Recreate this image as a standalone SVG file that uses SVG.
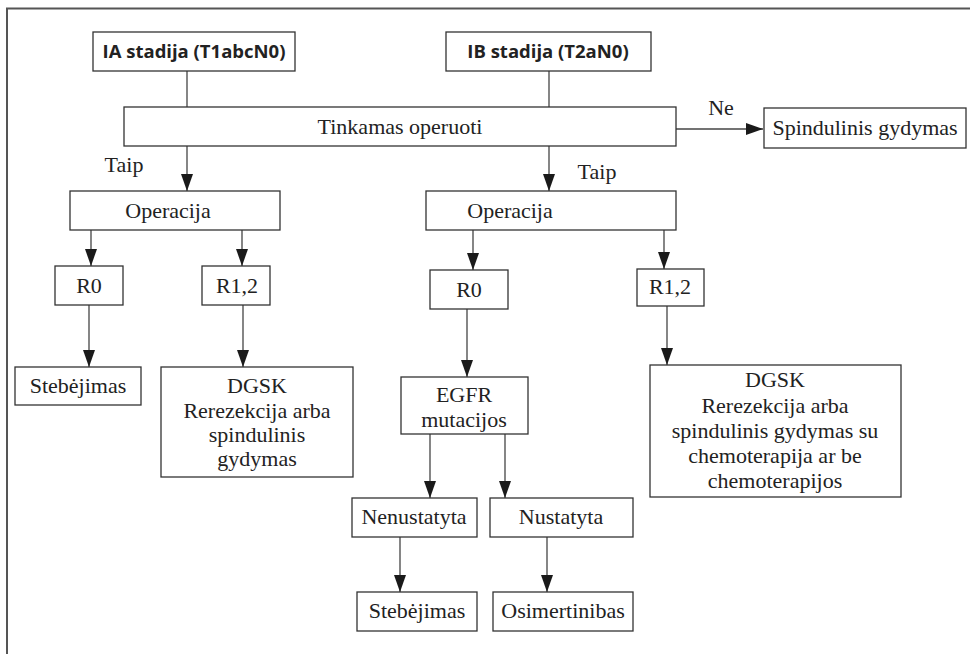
<svg xmlns="http://www.w3.org/2000/svg" width="970" height="654" viewBox="0 0 970 654" font-family="Liberation Serif, serif">
<defs>
<style>
.box{fill:#fff;stroke:#333;stroke-width:1.3}
.lbl{font-family:'Liberation Serif','Times New Roman',serif !important;font-size:22px;fill:#222;text-anchor:middle}
.hdr{font-family:'Open Sans','Liberation Sans',sans-serif !important;font-size:18.5px;font-weight:700;fill:#222;text-anchor:middle}
.ln{fill:none;stroke:#444;stroke-width:1.3}
.frame{fill:none;stroke:#555;stroke-width:2}
</style>
<marker id="ah" markerUnits="userSpaceOnUse" markerWidth="17" markerHeight="12" refX="17" refY="6" orient="auto" viewBox="0 0 17 12">
<path d="M0,0 L17,6 L0,12 z" fill="#1a1a1a"/>
</marker>
</defs>
<rect width="970" height="654" fill="#fff"/>
<path class="frame" d="M7,654 V8.5 H970"/>

<g id="connectors">
<path class="ln" d="M187,71 V107"/>
<path class="ln" d="M549,71 V107"/>
<path class="ln" d="M676,129 H763" marker-end="url(#ah)"/>
<path class="ln" d="M187,146 V191" marker-end="url(#ah)"/>
<path class="ln" d="M549,146 V191" marker-end="url(#ah)"/>
<path class="ln" d="M91,230 V266" marker-end="url(#ah)"/>
<path class="ln" d="M242,230 V266" marker-end="url(#ah)"/>
<path class="ln" d="M473,230 V270" marker-end="url(#ah)"/>
<path class="ln" d="M664,230 V269" marker-end="url(#ah)"/>
<path class="ln" d="M89,305 V367" marker-end="url(#ah)"/>
<path class="ln" d="M243,305 V367" marker-end="url(#ah)"/>
<path class="ln" d="M467,309 V377" marker-end="url(#ah)"/>
<path class="ln" d="M667,306 V365" marker-end="url(#ah)"/>
<path class="ln" d="M430,434 V498" marker-end="url(#ah)"/>
<path class="ln" d="M505,434 V498" marker-end="url(#ah)"/>
<path class="ln" d="M400,537 V592" marker-end="url(#ah)"/>
<path class="ln" d="M547,537 V592" marker-end="url(#ah)"/>
<text class="lbl" x="721" y="115">Ne</text>
<text class="lbl" x="124" y="172">Taip</text>
<text class="lbl" x="597" y="179">Taip</text>
</g>

<g id="ia"><rect class="box" x="93" y="32" width="202" height="39"/><text class="hdr" x="194" y="58">IA stadija (T1abcN0)</text></g>
<g id="ib"><rect class="box" x="446" y="32" width="205" height="39"/><text class="hdr" x="548" y="58">IB stadija (T2aN0)</text></g>
<g id="tinkamas"><rect class="box" x="124" y="107" width="552" height="39"/><text class="lbl" x="400" y="134">Tinkamas operuoti</text></g>
<g id="spindulinis"><rect class="box" x="764" y="108" width="202" height="40"/><text class="lbl" x="865" y="135">Spindulinis gydymas</text></g>
<g id="operacija1"><rect class="box" x="70" y="191" width="210" height="39"/><text class="lbl" x="168" y="218">Operacija</text></g>
<g id="operacija2"><rect class="box" x="426" y="191" width="250" height="39"/><text class="lbl" x="510" y="218">Operacija</text></g>
<g id="r0a"><rect class="box" x="55" y="266" width="68" height="39"/><text class="lbl" x="89" y="293">R0</text></g>
<g id="r12a"><rect class="box" x="202" y="266" width="68" height="39"/><text class="lbl" x="237" y="293">R1,2</text></g>
<g id="r0b"><rect class="box" x="430" y="270" width="78" height="39"/><text class="lbl" x="469" y="297">R0</text></g>
<g id="r12b"><rect class="box" x="637" y="269" width="67" height="37"/><text class="lbl" x="670" y="294">R1,2</text></g>
<g id="steb1"><rect class="box" x="15" y="367" width="126" height="38"/><text class="lbl" x="78" y="393">Stebėjimas</text></g>
<g id="dgsk1"><rect class="box" x="161" y="367" width="192" height="110"/>
<text class="lbl" x="257" y="393">DGSK</text>
<text class="lbl" x="257" y="418">Rerezekcija arba</text>
<text class="lbl" x="257" y="442">spindulinis</text>
<text class="lbl" x="257" y="466">gydymas</text></g>
<g id="egfr"><rect class="box" x="401" y="377" width="127" height="57"/>
<text class="lbl" x="464" y="402">EGFR</text>
<text class="lbl" x="464" y="427">mutacijos</text></g>
<g id="dgsk2"><rect class="box" x="650" y="365" width="251" height="132"/>
<text class="lbl" x="775" y="387">DGSK</text>
<text class="lbl" x="775" y="413">Rerezekcija arba</text>
<text class="lbl" x="775" y="438">spindulinis gydymas su</text>
<text class="lbl" x="775" y="463">chemoterapija ar be</text>
<text class="lbl" x="775" y="488">chemoterapijos</text></g>
<g id="nenustatyta"><rect class="box" x="352" y="498" width="125" height="39"/><text class="lbl" x="414" y="524">Nenustatyta</text></g>
<g id="nustatyta"><rect class="box" x="490" y="498" width="143" height="39"/><text class="lbl" x="561" y="524">Nustatyta</text></g>
<g id="steb2"><rect class="box" x="357" y="592" width="120" height="39"/><text class="lbl" x="417" y="618">Stebėjimas</text></g>
<g id="osim"><rect class="box" x="493" y="592" width="140" height="39"/><text class="lbl" x="563" y="618">Osimertinibas</text></g>
</svg>
